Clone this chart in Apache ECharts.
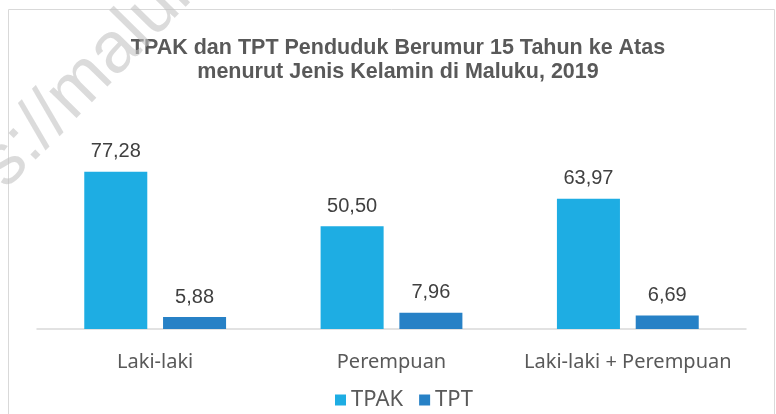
<!DOCTYPE html>
<html>
<head>
<meta charset="utf-8">
<script src="https://cdn.jsdelivr.net/npm/echarts@6/dist/echarts.min.js"></script>
<style>
  html, body { margin: 0; padding: 0; background: #fff; }
  #chart { width: 776px; height: 414px; }
</style>
</head>
<body>
<div id="chart"></div>
<script>
const categories = ["Laki-laki", "Perempuan", "Laki-laki + Perempuan"];
const tpak = [77.28, 50.50, 63.97];
const tpt = [5.88, 7.96, 6.69];
const seriesNames = ["TPAK", "TPT"];

const colors = ["#1eade3", "#2781c6"];
const fmt = (p) => p.value.toFixed(2).replace(".", ",");

const myChart = echarts.init(document.getElementById("chart"));

const labelStyle = {
  show: true,
  position: "top",
  distance: 10,
  formatter: fmt,
  fontFamily: "Liberation Sans",
  fontSize: 20,
  color: "#404040",
};

const option = {
  color: colors,
  animation: false,
  title: {
    text: "TPAK dan TPT Penduduk Berumur 15 Tahun ke Atas\nmenurut Jenis Kelamin di Maluku, 2019",
    left: 393,
    top: 31,
    textAlign: "center",
    textStyle: {
      fontFamily: "Liberation Sans",
      fontWeight: "bold",
      fontSize: 21.5,
      lineHeight: 24,
      color: "#595959",
    },
  },
  legend: {
    data: seriesNames,
    top: 384,
    left: 330,
    itemWidth: 11,
    itemHeight: 11,
    itemGap: 16,
    icon: "rect",
    textStyle: {
      fontFamily: "Noto Sans",
      fontSize: 22,
      color: "#595959",
    },
  },
  grid: {
    left: 37,
    right: 30,
    top: 125.5,
    bottom: 85,
  },
  xAxis: {
    type: "category",
    data: categories,
    axisTick: { show: false },
    axisLine: { lineStyle: { color: "#d9d9d9", width: 1.5 } },
    axisLabel: {
      interval: 0,
      margin: 23,
      fontFamily: "Noto Sans",
      fontSize: 20,
      color: "#595959",
    },
  },
  yAxis: {
    type: "value",
    min: 0,
    max: 100,
    show: false,
  },
  series: [
    {
      name: seriesNames[0],
      type: "bar",
      data: tpak,
      barGap: "25%",
      barCategoryGap: "40%",
      label: labelStyle,
    },
    {
      name: seriesNames[1],
      type: "bar",
      data: tpt,
      label: labelStyle,
    },
  ],
  graphic: [
    {
      type: "rect",
      shape: { x: 8.5, y: 9.5, width: 766, height: 420 },
      style: { fill: "none", stroke: "#d9d9d9", lineWidth: 1 },
      z: -1,
    },
    {
      // watermark
      type: "text",
      x: -67,
      y: 287,
      rotation: 45.5 * Math.PI / 180,
      style: {
        text: "https://maluku.bps.go.id",
        fontFamily: "Liberation Sans",
        fontSize: 72,
        fill: "rgba(195,195,195,0.6)",
        textVerticalAlign: "bottom",
      },
      z: 100,
    },
  ],
};

myChart.setOption(option);
</script>
</body>
</html>
